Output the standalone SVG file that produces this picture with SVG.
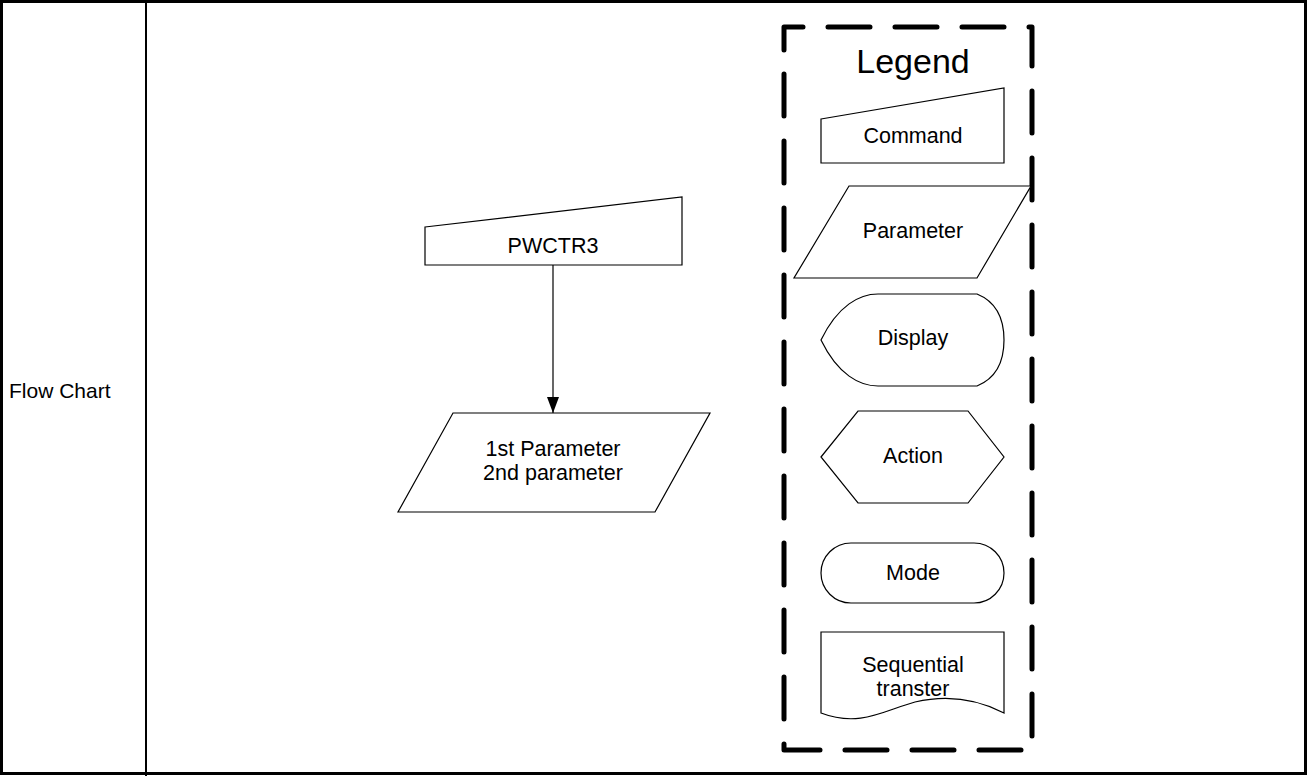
<svg xmlns="http://www.w3.org/2000/svg" width="1308" height="776" viewBox="0 0 1308 776">
<style>
.frame{fill:none;stroke:#000;stroke-width:3}
.shape{fill:#fff;stroke:#000;stroke-width:1.2}
.lbl{font-family:"Liberation Sans",Arial,sans-serif;font-size:21.5px;fill:#000;text-anchor:middle}
.conn{stroke:#000;stroke-width:1.2;fill:none}
</style>
<defs>
<marker id="arr" viewBox="0 0 16 12" refX="16" refY="6" markerWidth="16" markerHeight="12" markerUnits="userSpaceOnUse" orient="auto">
<path d="M0,0 L16,6 L0,12 Z" fill="#000"/>
</marker>
</defs>
<rect x="0" y="0" width="1308" height="776" fill="#fff"/>
<g id="table">
<rect class="frame" x="1.5" y="1.5" width="1304" height="772"/>
<line x1="146" y1="0" x2="146" y2="776" stroke="#000" stroke-width="2"/>
<text x="9" y="398" font-family="Liberation Sans, Arial, sans-serif" font-size="21" fill="#000">Flow Chart</text>
</g>
<g id="legend-box">
<path d="M784,50 L784,27 L1032,27 L1032,750 L784,750 Z" fill="none" stroke="#000" stroke-width="5" stroke-dasharray="42 25" stroke-linecap="round" stroke-linejoin="round"/>
<text x="913" y="73" font-family="Liberation Sans, Arial, sans-serif" font-size="34" fill="#000" text-anchor="middle">Legend</text>
</g>
<g id="connectors">
<line class="conn" x1="553" y1="265" x2="553" y2="413" marker-end="url(#arr)"/>
</g>
<g id="node-pwctr3">
<path class="shape" d="M425,227 L682,197 L682,265 L425,265 Z"/>
<text class="lbl" x="553" y="253">PWCTR3</text>
</g>
<g id="node-parameters">
<path class="shape" d="M453,413 L710,413 L655,512 L398,512 Z"/>
<text class="lbl" x="553" y="456">1st Parameter</text>
<text class="lbl" x="553" y="480">2nd parameter</text>
</g>
<g id="legend-command">
<path class="shape" d="M821,119 L1004,88 L1004,163 L821,163 Z"/>
<text class="lbl" x="913" y="143">Command</text>
</g>
<g id="legend-parameter">
<path class="shape" d="M849,186 L1031,186 L977,278 L794,278 Z"/>
<text class="lbl" x="913" y="238">Parameter</text>
</g>
<g id="legend-display">
<path class="shape" d="M821,340 C838,305 860,294 878,294 L977,294 Q1004,305 1004,340 Q1004,375 977,386 L878,386 C860,386 838,375 821,340 Z"/>
<text class="lbl" x="913" y="345">Display</text>
</g>
<g id="legend-action">
<path class="shape" d="M821,457 L858,411 L968,411 L1004,457 L968,503 L858,503 Z"/>
<text class="lbl" x="913" y="463">Action</text>
</g>
<g id="legend-mode">
<rect class="shape" x="821" y="543" width="183" height="60" rx="30" ry="30"/>
<text class="lbl" x="913" y="580">Mode</text>
</g>
<g id="legend-sequential">
<path class="shape" d="M821,632 L1004,632 L1004,713 C975,698 945,695 915,702 C885,710 860,728 821,713 Z"/>
<text class="lbl" x="913" y="672">Sequential</text>
<text class="lbl" x="913" y="696">transter</text>
</g>
</svg>
